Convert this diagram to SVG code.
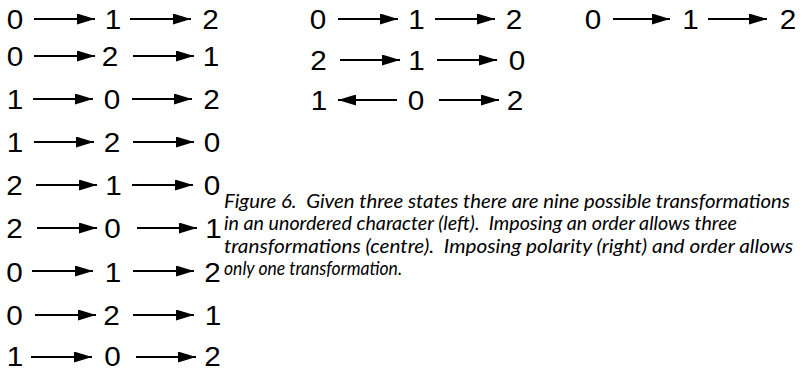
<svg xmlns="http://www.w3.org/2000/svg" width="803" height="371" viewBox="0 0 803 371">
<style>
.d{font-family:"Liberation Sans",Arial,sans-serif;font-size:27px;fill:#000;text-anchor:middle}
.a{stroke:#000;stroke-width:2;fill:none;marker-end:url(#ah)}
.cap{font-family:Lato,"Open Sans",sans-serif;font-style:italic;font-size:18.5px;fill:#000;white-space:pre}
</style>
<defs>
<marker id="ah" markerUnits="userSpaceOnUse" markerWidth="18" markerHeight="11" refX="18" refY="5.5" orient="auto">
<path d="M0,0 L18,5.5 L0,11 z" fill="#000"/>
</marker>
</defs>
<g id="connectors">
<line class="a" x1="34" y1="19" x2="95" y2="19"/><line class="a" x1="130" y1="19" x2="191" y2="19"/>
<line class="a" x1="34" y1="56" x2="95" y2="56"/><line class="a" x1="133" y1="56" x2="194" y2="56"/>
<line class="a" x1="33" y1="99" x2="93" y2="99"/><line class="a" x1="132" y1="99" x2="192" y2="99"/>
<line class="a" x1="34" y1="142" x2="94" y2="142"/><line class="a" x1="133" y1="142" x2="194" y2="142"/>
<line class="a" x1="36" y1="185" x2="97" y2="185"/><line class="a" x1="132" y1="185" x2="193" y2="185"/>
<line class="a" x1="37" y1="228" x2="97" y2="228"/><line class="a" x1="137" y1="228" x2="197" y2="228"/>
<line class="a" x1="32" y1="271" x2="93" y2="271"/><line class="a" x1="133" y1="271" x2="194" y2="271"/>
<line class="a" x1="35" y1="315" x2="96" y2="315"/><line class="a" x1="133" y1="315" x2="194" y2="315"/>
<line class="a" x1="31" y1="357" x2="92" y2="357"/><line class="a" x1="136" y1="357" x2="196" y2="357"/>
<line class="a" x1="338" y1="19" x2="398" y2="19"/><line class="a" x1="435" y1="19" x2="495" y2="19"/>
<line class="a" x1="340" y1="60" x2="400" y2="60"/><line class="a" x1="437" y1="60" x2="497" y2="60"/>
<line class="a" x1="397" y1="100" x2="338" y2="100"/><line class="a" x1="439" y1="100" x2="499" y2="100"/>
<line class="a" x1="613" y1="19" x2="670" y2="19"/><line class="a" x1="708" y1="19" x2="767" y2="19"/>
</g>
<g id="left-column">
<g id="l1"><text class="d" transform="translate(15,28.5) scale(1.1,1)">0</text><text class="d" transform="translate(113,28.5) scale(1.1,1)">1</text><text class="d" transform="translate(210.5,28.5) scale(1.1,1)">2</text></g>
<g id="l2"><text class="d" transform="translate(15,65.5) scale(1.1,1)">0</text><text class="d" transform="translate(110,65.5) scale(1.1,1)">2</text><text class="d" transform="translate(211,65.5) scale(1.1,1)">1</text></g>
<g id="l3"><text class="d" transform="translate(15,108.5) scale(1.1,1)">1</text><text class="d" transform="translate(112,108.5) scale(1.1,1)">0</text><text class="d" transform="translate(211.5,108.5) scale(1.1,1)">2</text></g>
<g id="l4"><text class="d" transform="translate(15,151.5) scale(1.1,1)">1</text><text class="d" transform="translate(112,151.5) scale(1.1,1)">2</text><text class="d" transform="translate(212,151.5) scale(1.1,1)">0</text></g>
<g id="l5"><text class="d" transform="translate(14.5,194.5) scale(1.1,1)">2</text><text class="d" transform="translate(113.5,194.5) scale(1.1,1)">1</text><text class="d" transform="translate(212,194.5) scale(1.1,1)">0</text></g>
<g id="l6"><text class="d" transform="translate(14.5,238) scale(1.1,1)">2</text><text class="d" transform="translate(112.5,238) scale(1.1,1)">0</text><text class="d" transform="translate(213.5,238) scale(1.1,1)">1</text></g>
<g id="l7"><text class="d" transform="translate(14.5,281.5) scale(1.1,1)">0</text><text class="d" transform="translate(113,281.5) scale(1.1,1)">1</text><text class="d" transform="translate(212.5,281.5) scale(1.1,1)">2</text></g>
<g id="l8"><text class="d" transform="translate(14.5,325) scale(1.1,1)">0</text><text class="d" transform="translate(111.5,325) scale(1.1,1)">2</text><text class="d" transform="translate(213,325) scale(1.1,1)">1</text></g>
<g id="l9"><text class="d" transform="translate(15,366) scale(1.1,1)">1</text><text class="d" transform="translate(112.5,366) scale(1.1,1)">0</text><text class="d" transform="translate(212.5,366) scale(1.1,1)">2</text></g>
</g>
<g id="middle-column">
<g id="m1"><text class="d" transform="translate(318,29) scale(1.1,1)">0</text><text class="d" transform="translate(416.5,29) scale(1.1,1)">1</text><text class="d" transform="translate(514,29) scale(1.1,1)">2</text></g>
<g id="m2"><text class="d" transform="translate(318.5,69.5) scale(1.1,1)">2</text><text class="d" transform="translate(416.5,69.5) scale(1.1,1)">1</text><text class="d" transform="translate(517,69.5) scale(1.1,1)">0</text></g>
<g id="m3"><text class="d" transform="translate(319,109.5) scale(1.1,1)">1</text><text class="d" transform="translate(416,109.5) scale(1.1,1)">0</text><text class="d" transform="translate(515,109.5) scale(1.1,1)">2</text></g>
</g>
<g id="right-column">
<g id="r1"><text class="d" transform="translate(593,28.5) scale(1.1,1)">0</text><text class="d" transform="translate(690.5,28.5) scale(1.1,1)">1</text><text class="d" transform="translate(788,28.5) scale(1.1,1)">2</text></g>
</g>
<g id="caption">
<text class="cap" x="224" y="208" textLength="566" lengthAdjust="spacingAndGlyphs">Figure 6.  Given three states there are nine possible transformations</text>
<text class="cap" x="224" y="230" textLength="513" lengthAdjust="spacingAndGlyphs">in an unordered character (left).  Imposing an order allows three</text>
<text class="cap" x="224" y="253" textLength="569" lengthAdjust="spacingAndGlyphs">transformations (centre).  Imposing polarity (right) and order allows</text>
<text class="cap" x="224" y="275" textLength="178" lengthAdjust="spacingAndGlyphs">only one transformation.</text>
</g>
</svg>
